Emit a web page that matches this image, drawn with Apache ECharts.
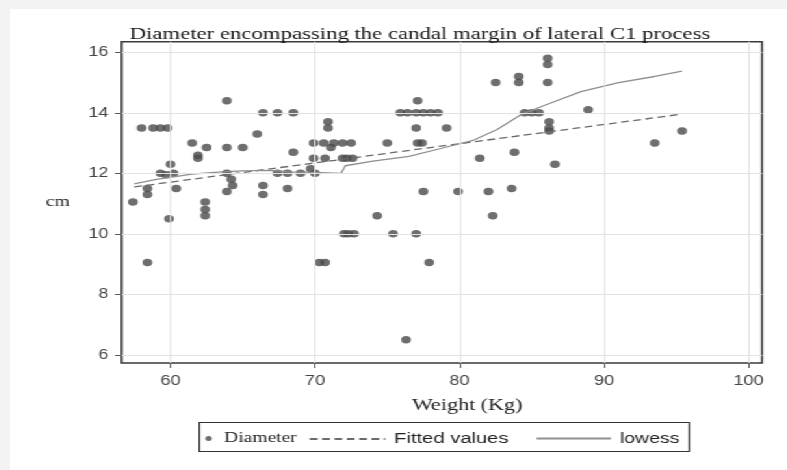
<!DOCTYPE html>
<html>
<head>
<meta charset="utf-8">
<script src="https://cdn.jsdelivr.net/npm/echarts@6/dist/echarts.min.js"></script>
<style>
  html, body { margin: 0; padding: 0; background: #f3f3f3; width: 787px; height: 470px; overflow: hidden; }
  /* the chart is laid out narrow and stretched sideways */
  #chart { position: absolute; left: 10px; top: 9px; width: 597.7px; height: 461px; background: #ffffff;
           transform: scaleX(1.3); transform-origin: 0 0; }
</style>
</head>
<body>
<div id="chart"></div>
<script>
// Observations: body weight (kg) and diameter (cm)
const weight = [
  57.4, 58.0, 58.8, 59.3, 59.8, 60.0, 59.3, 59.7, 60.2, 58.4, 58.4, 60.4, 59.9, 58.4,
  62.4, 62.4, 62.4, 61.5, 61.9, 61.9, 62.5, 63.9, 63.9, 65.0, 63.9, 64.2, 64.3, 63.9,
  66.0, 66.4, 67.4, 68.5, 68.5, 66.4, 66.4, 68.1, 67.4, 68.1, 69.0, 69.7, 70.0,
  69.9, 70.6, 69.9, 70.9, 70.9, 71.3, 71.9, 72.5, 70.7, 71.9, 72.2, 72.6, 71.1,
  75.0, 77.1, 77.4, 77.1, 75.9, 76.4, 77.0, 77.5, 78.0, 78.5, 77.0, 79.1,
  82.5, 84.1, 84.1, 81.4, 83.8, 77.5, 79.9, 82.0, 83.6,
  70.3, 70.7, 72.0, 72.3, 72.7, 74.3, 75.4, 77.0, 77.9, 76.3, 82.3,
  86.1, 86.1, 86.1, 84.5, 85.0, 85.5, 88.9, 86.2, 86.2, 86.2, 86.6, 93.5, 95.4
];
const diameter = [
  11.05, 13.5, 13.5, 13.5, 13.5, 12.3, 12.0, 11.95, 12.0, 11.5, 11.3, 11.5, 10.5, 9.05,
  11.05, 10.8, 10.6, 13.0, 12.6, 12.5, 12.85, 14.4, 12.85, 12.85, 12.0, 11.8, 11.6, 11.4,
  13.3, 14.0, 14.0, 14.0, 12.7, 11.6, 11.3, 11.5, 12.0, 12.0, 12.0, 12.15, 12.0,
  13.0, 13.0, 12.5, 13.7, 13.5, 13.0, 13.0, 13.0, 12.5, 12.5, 12.5, 12.5, 12.85,
  13.0, 13.0, 13.0, 14.4, 14.0, 14.0, 14.0, 14.0, 14.0, 14.0, 13.5, 13.5,
  15.0, 15.2, 15.0, 12.5, 12.7, 11.4, 11.4, 11.4, 11.5,
  9.05, 9.05, 10.0, 10.0, 10.0, 10.6, 10.0, 10.0, 9.05, 6.5, 10.6,
  15.8, 15.6, 15.0, 14.0, 14.0, 14.0, 14.1, 13.7, 13.5, 13.4, 12.3, 13.0, 13.4
];

// Linear fit (end points of the fitted line)
const fitX = [57.5, 95.3];
const fitY = [11.55, 13.95];

// Lowess smoother
const lowessX = [57.5, 59.0, 61.5, 63.5, 65.0, 67.0, 68.3, 69.9, 71.8, 72.1, 74.0, 76.5, 78.7, 81.0, 82.6, 84.3, 85.9, 88.4, 91.0, 93.5, 95.4];
const lowessY = [11.65, 11.8, 11.97, 12.05, 12.08, 12.1, 12.05, 12.03, 12.0, 12.25, 12.4, 12.56, 12.82, 13.1, 13.45, 13.95, 14.25, 14.7, 15.0, 15.2, 15.38];

// Axis ticks
const xTicks = [60, 70, 80, 90, 100];
const yTicks = [6, 8, 10, 12, 14, 16];

const zip = (a, b) => a.map((v, i) => [v, b[i]]);

const serif = '"Liberation Serif", "Times New Roman", serif';
const sans = '"Liberation Sans", Arial, sans-serif';

const chart = echarts.init(document.getElementById('chart'), null, { renderer: 'canvas' });

chart.setOption({
  animation: false,
  title: {
    text: 'Diameter encompassing the candal margin of lateral C1 process',
    left: 87, top: 11,
    textStyle: { fontFamily: serif, fontSize: 17.5, fontWeight: 'normal', color: '#151515' }
  },
  grid: {
    left: 85.9, right: 19.5, top: 32.7, bottom: 107,
    show: true, borderColor: '#3a3a3a', borderWidth: 1.5, backgroundColor: '#ffffff',
    outerBoundsMode: 'none'
  },
  xAxis: {
    type: 'value', min: 56.62, max: 100.93,
    name: 'Weight (Kg)', nameLocation: 'middle', nameGap: 34,
    nameTextStyle: { fontFamily: serif, fontSize: 17, color: '#222', padding: [0, 0, 0, 39] },
    axisLine: { show: false },
    axisTick: { show: true, customValues: xTicks, length: 5, lineStyle: { color: '#555', width: 1 } },
    axisLabel: { customValues: xTicks, margin: 11, fontFamily: sans, fontSize: 14, color: '#444' },
    splitLine: { show: false }
  },
  yAxis: {
    type: 'value', min: 5.73, max: 16.35,
    name: 'cm', nameLocation: 'middle', nameRotate: 0, nameGap: 40,
    nameTextStyle: { fontFamily: serif, fontSize: 15, color: '#222' },
    axisLine: { show: false },
    axisTick: { show: true, customValues: yTicks, length: 5, lineStyle: { color: '#555', width: 1 } },
    axisLabel: { customValues: yTicks, margin: 10, fontFamily: sans, fontSize: 14, color: '#444' },
    splitLine: { show: false }
  },
  legend: [
    {
      data: [{ name: 'Diameter', icon: 'circle', textStyle: { fontFamily: serif, fontSize: 15 } }],
      left: 145.3, top: 417, itemWidth: 14, itemHeight: 5,
      textStyle: { color: '#222' }
    },
    {
      data: [{ name: 'Fitted values' }],
      left: 224.6, top: 417, itemWidth: 58, itemHeight: 10,
      itemStyle: { opacity: 0 },
      textStyle: { fontFamily: sans, fontSize: 15.5, color: '#222', padding: [0, 0, 0, 2] }
    },
    {
      data: [{ name: 'lowess' }],
      left: 399.2, top: 417, itemWidth: 57, itemHeight: 10,
      itemStyle: { opacity: 0 },
      textStyle: { fontFamily: sans, fontSize: 15, color: '#222', padding: [0, 0, 0, 2] }
    }
  ],
  graphic: [
    {
      type: 'rect', left: 143.1, top: 411, silent: true,
      shape: { width: 376.9, height: 29 },
      style: { fill: 'none', stroke: '#333', lineWidth: 1.2 }
    }
  ],
  series: [
    {
      // reference grid lines at the labelled ticks
      type: 'line', data: [], silent: true, z: 1,
      markLine: {
        silent: true, symbol: 'none', label: { show: false },
        lineStyle: { color: '#e2e2e2', width: 1, type: 'solid' },
        emphasis: { disabled: true },
        data: yTicks.map(v => ({ yAxis: v })).concat(xTicks.map(v => ({ xAxis: v })))
      }
    },
    {
      name: 'Diameter', type: 'scatter', z: 3,
      data: zip(weight, diameter),
      symbol: 'circle', symbolSize: 7.5,
      itemStyle: { color: '#4a4a4a' }
    },
    {
      name: 'Fitted values', type: 'line', z: 4,
      data: zip(fitX, fitY),
      symbol: 'none',
      itemStyle: { color: '#6a6a6a' },
      lineStyle: { color: '#6a6a6a', width: 1.3, type: [6, 3.5] }
    },
    {
      name: 'lowess', type: 'line', z: 4,
      data: zip(lowessX, lowessY),
      symbol: 'none',
      itemStyle: { color: '#8f8f8f' },
      lineStyle: { color: '#8f8f8f', width: 1.3, type: 'solid' }
    }
  ]
});
</script>
</body>
</html>
